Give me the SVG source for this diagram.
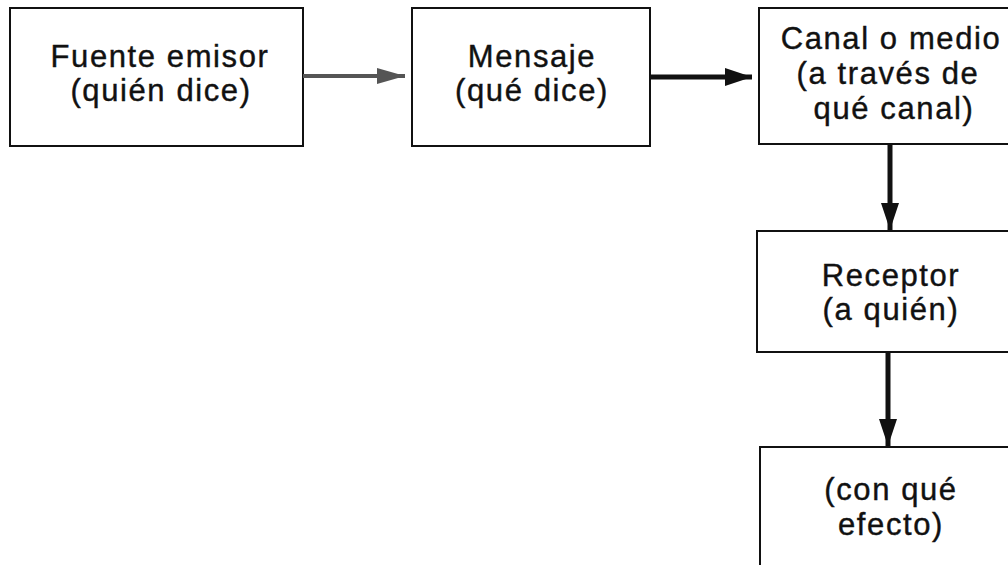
<svg xmlns="http://www.w3.org/2000/svg" width="1008" height="565" viewBox="0 0 1008 565">
  <style>
    .box { fill: #ffffff; stroke: #111111; stroke-width: 2; }
    .label { font-family: "Liberation Sans", Arial, sans-serif; font-size: 31px; letter-spacing: 1.6px; fill: #111111; stroke: #111111; stroke-width: 0.4px; text-anchor: middle; }
    .link { fill: none; stroke: #111111; stroke-width: 5; }
    .link-grey { fill: none; stroke: #555555; stroke-width: 4; }
  </style>
  <defs>
    <marker id="head" markerUnits="userSpaceOnUse" markerWidth="28" markerHeight="18" refX="27" refY="9" orient="auto">
      <path d="M0,0 L27,9 L0,18 Z" fill="#111111"/>
    </marker>
    <marker id="head-grey" markerUnits="userSpaceOnUse" markerWidth="28" markerHeight="16" refX="28" refY="8" orient="auto">
      <path d="M0,0 L28,8 L0,16 Z" fill="#555555"/>
    </marker>
  </defs>

  <rect width="1008" height="565" fill="#ffffff"/>

  <!-- sender -->
  <g id="fuente">
    <rect class="box" x="10" y="8" width="293" height="138"/>
    <text class="label" x="160" y="67">Fuente emisor</text>
    <text class="label" x="161" y="101">(quién dice)</text>
  </g>

  <!-- message -->
  <g id="mensaje">
    <rect class="box" x="412" y="8" width="238" height="138"/>
    <text class="label" x="532" y="67">Mensaje</text>
    <text class="label" x="532" y="101">(qué dice)</text>
  </g>

  <!-- channel -->
  <g id="canal">
    <rect class="box" x="759" y="8" width="270" height="136"/>
    <text class="label" x="891" y="49">Canal o medio</text>
    <text class="label" x="888" y="84">(a través de</text>
    <text class="label" x="894" y="119">qué canal)</text>
  </g>

  <!-- receiver -->
  <g id="receptor">
    <rect class="box" x="757" y="231" width="270" height="121"/>
    <text class="label" x="891" y="286">Receptor</text>
    <text class="label" x="891" y="320">(a quién)</text>
  </g>

  <!-- effect -->
  <g id="efecto">
    <rect class="box" x="760" y="447" width="270" height="130"/>
    <text class="label" x="891" y="500">(con qué</text>
    <text class="label" x="891" y="535">efecto)</text>
  </g>

  <g id="connectors">
    <line class="link-grey" x1="303" y1="76" x2="405" y2="76" marker-end="url(#head-grey)"/>
    <line class="link" x1="650" y1="77" x2="752" y2="77" marker-end="url(#head)"/>
    <line class="link" x1="890" y1="144" x2="890" y2="230" marker-end="url(#head)"/>
    <line class="link" x1="888" y1="352" x2="888" y2="446" marker-end="url(#head)"/>
  </g>
</svg>
